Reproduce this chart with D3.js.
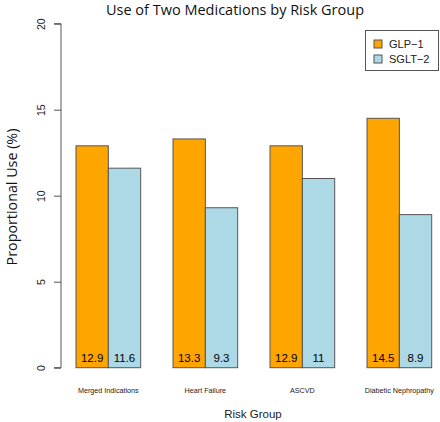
<!DOCTYPE html>
<html><head><meta charset="utf-8">
<script src="https://cdn.jsdelivr.net/npm/d3@7"></script>
<style>body{margin:0;background:#fff}svg{display:block}</style>
</head><body>
<svg id="c" width="440" height="422"></svg>
<script>
const categories = ["Merged Indications", "Heart Failure", "ASCVD", "Diabetic Nephropathy"];
const seriesNames = ["GLP\u22121", "SGLT\u22122"];
const glp1 = [12.9, 13.3, 12.9, 14.5];
const sglt2 = [11.6, 9.3, 11.0, 8.9];
const valueLabels = [["12.9","13.3","12.9","14.5"],["11.6","9.3","11","8.9"]];
const yTicks = [0, 5, 10, 15, 20];
const colors = ["#FFA500", "#ADD8E6"];

const svg = d3.select("#c");
const y = d3.scaleLinear().domain([0, 20]).range([367.7, 23.7]);
const x0 = d3.scaleBand().domain(categories).range([76, 431.7]).paddingInner(1/3).paddingOuter(0);
const x1 = d3.scaleBand().domain([0, 1]).range([0, x0.bandwidth()]);
const series = [glp1, sglt2];

// bars
categories.forEach((c, i) => {
  series.forEach((s, j) => {
    svg.append("rect")
      .attr("x", x0(c) + x1(j)).attr("y", y(s[i]))
      .attr("width", x1.bandwidth()).attr("height", y(0) - y(s[i]))
      .attr("fill", colors[j]).attr("stroke", "#555").attr("stroke-width", 1);
    svg.append("text")
      .attr("x", x0(c) + x1(j) + x1.bandwidth() / 2).attr("y", 362)
      .attr("text-anchor", "middle").attr("font-family", "Liberation Sans, Arial, sans-serif")
      .attr("font-size", 11.5).attr("fill", "#000").text(valueLabels[j][i]);
  });
  svg.append("text")
    .attr("x", x0(c) + x0.bandwidth() / 2).attr("y", 393)
    .attr("text-anchor", "middle").attr("font-family", "Liberation Sans, Arial, sans-serif")
    .attr("font-size", 7.2).attr("fill", "#222").text(c);
});

// y axis
const yAxis = d3.axisLeft(y).tickValues(yTicks).tickSize(7).tickPadding(6).tickFormat(d3.format("d"));
const ga = svg.append("g").attr("transform", "translate(61,0)").call(yAxis);
ga.select(".domain").attr("stroke", "#555").attr("d", `M-7,${y(0)}H0V${y(20)}H-7`);
ga.selectAll(".tick line").attr("stroke", "#555");
ga.selectAll(".tick text")
  .attr("font-family", "Liberation Sans, Arial, sans-serif").attr("font-size", 10.5).attr("fill", "#222")
  .attr("text-anchor", "middle").attr("dy", 0)
  .attr("transform", "translate(-16,0) rotate(-90)")
  .attr("x", 0).attr("y", 0);

// title and axis labels
svg.append("text").attr("x", 235).attr("y", 15).attr("text-anchor", "middle")
  .attr("font-family", "Open Sans, sans-serif").attr("font-size", 14.5).attr("fill", "#111")
  .text("Use of Two Medications by Risk Group");
svg.append("text").attr("x", 253).attr("y", 418).attr("text-anchor", "middle")
  .attr("font-family", "Liberation Sans, Arial, sans-serif").attr("font-size", 11.5).attr("fill", "#222")
  .text("Risk Group");
svg.append("text").attr("transform", "translate(17,197) rotate(-90)").attr("text-anchor", "middle")
  .attr("font-family", "Open Sans, sans-serif").attr("font-size", 14.3).attr("fill", "#111")
  .text("Proportional Use (%)");

// legend
const lg = svg.append("g");
lg.append("rect").attr("x", 365.5).attr("y", 30.5).attr("width", 73).attr("height", 40)
  .attr("fill", "#fff").attr("stroke", "#555");
seriesNames.forEach((n, j) => {
  const cy = 44 + j * 15;
  lg.append("rect").attr("x", 374).attr("y", cy - 4).attr("width", 8).attr("height", 8)
    .attr("fill", colors[j]).attr("stroke", "#555");
  lg.append("text").attr("x", 389).attr("y", cy + 4).attr("font-family", "Liberation Sans, Arial, sans-serif")
    .attr("font-size", 11).attr("fill", "#222").text(n);
});
</script>
</body></html>
